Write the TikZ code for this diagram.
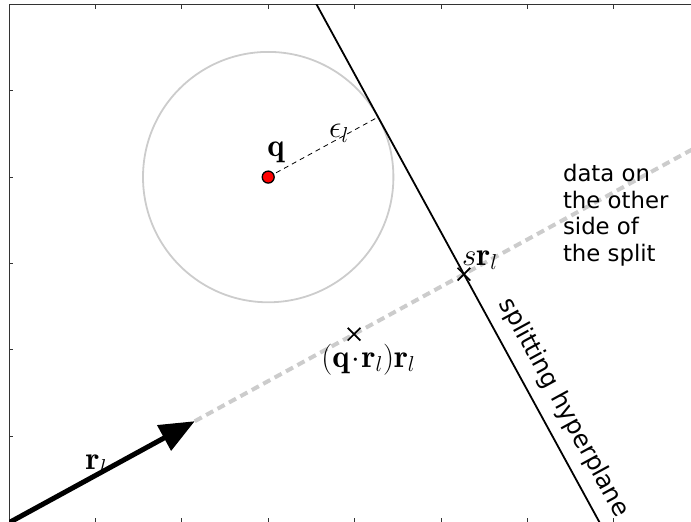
\documentclass[tikz,border=0pt]{standalone}
\usepackage{fontspec}
\newfontfamily\djs{DejaVu Sans}
\usetikzlibrary{arrows.meta,calc,shapes.misc}
\tikzset{
  spine/.style={line width=1pt,black!80},
  tick/.style={line width=0.8pt,black!80},
  raydash/.style={line width=4pt,black!20,dash pattern=on 8pt off 5pt},
  epsdash/.style={line width=0.8pt,black,dash pattern=on 5pt off 4pt},
  hyper/.style={line width=1.8pt,black},
  xmark/.style={cross out,draw,line width=1.7pt,minimum size=11pt,inner sep=0pt},
  mathlbl/.style={font=\fontsize{26}{30}\selectfont,inner sep=0pt,scale=1.25,transform shape},
  txtlbl/.style={font=\djs\fontsize{22.8}{26.5}\selectfont,inner sep=0pt},
}
\begin{document}
\begin{tikzpicture}[x=86.4pt,y=86.4pt]
\useasboundingbox (-0.1042,0.0081) rectangle (7.8935,6.0498);
% axes frame
\draw[spine] (0,0) -- (0,6) -- (8,6);
\foreach \k in {1,...,5} \draw[tick] (0,\k) -- (0.05,\k);
\foreach \k in {1,...,7} {\draw[tick] (\k,0) -- (\k,0.05); \draw[tick] (\k,6) -- (\k,5.95);}
% geometry
\coordinate (O) at (0,0);
\coordinate (Q) at (3,4);
\coordinate (tip) at (28.65:2.45);
\coordinate (far) at (28.65:9.8);
\coordinate (S) at (28.65:6);
\coordinate (P) at (28.65:4.551);
\coordinate (T) at ($(Q)+(28.65:1.449)$);
\coordinate (h1) at ($(S)+(118.65:3.9)$);
\coordinate (h2) at ($(S)+(-61.35:3.6)$);
\begin{scope}
\clip (0,0) rectangle (8,6);
\draw[line width=1.8pt,black!20] (Q) circle[radius=1.449];
\draw[raydash] (tip) -- (far);
\draw[hyper] (h1) -- (h2);
\draw[epsdash] (Q) -- (T);
\draw[line width=5pt,-{Triangle[length=35pt,width=28pt]}] (O) -- (tip);
\end{scope}
\node[xmark] (pmark) at (P) {};
\node[xmark] (smark) at (S) {};
\node[circle,fill=red,draw=black,line width=1.3pt,minimum size=12pt,inner sep=0pt] (q) at (Q) {};
% labels
\node[mathlbl] (lq) at (3.09,4.29) {$\mathbf{q}$};
\node[mathlbl] (leps) at (3.82,4.51) {$\epsilon_l$};
\node[mathlbl] (ls) at (5.45,3.04) {$s\mathbf{r}_l$};
\node[mathlbl] (lp) at (4.16,1.89) {$(\mathbf{q}\!\cdot\!\mathbf{r}_l)\mathbf{r}_l$};
\node[mathlbl] (lr) at (1.01,0.67) {$\mathbf{r}_l$};
\node[txtlbl,rotate=-61.35,font=\djs\fontsize{24.5}{28}\selectfont] (lh) at (6.42,1.33) {splitting hyperplane};
\node[txtlbl,anchor=west,align=left] (ld) at (6.41,3.56) {data on\\the other\\side of\\the split};
\end{tikzpicture}
\end{document}
